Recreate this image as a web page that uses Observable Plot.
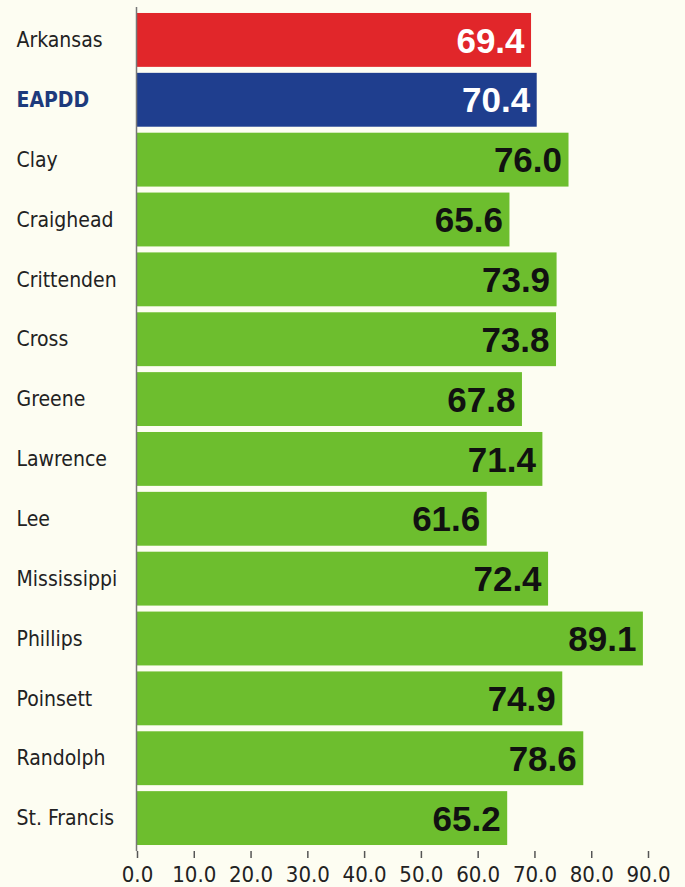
<!DOCTYPE html>
<html>
<head>
<meta charset="utf-8">
<script src="https://cdn.jsdelivr.net/npm/d3@7"></script>
<script src="https://cdn.jsdelivr.net/npm/@observablehq/plot@0.6"></script>
<style>
  html, body { margin: 0; padding: 0; background: #fdfdf2; }
  #chart svg { display: block; }
</style>
</head>
<body>
<div id="chart"></div>
<script>
const names = ["Arkansas", "EAPDD", "Clay", "Craighead", "Crittenden", "Cross", "Greene", "Lawrence", "Lee", "Mississippi", "Phillips", "Poinsett", "Randolph", "St. Francis"];
const values = [69.4, 70.4, 76.0, 65.6, 73.9, 73.8, 67.8, 71.4, 61.6, 72.4, 89.1, 74.9, 78.6, 65.2];
const groups = ["state", "district", "county", "county", "county", "county", "county", "county", "county", "county", "county", "county", "county", "county"];
const xTicks = [0, 10, 20, 30, 40, 50, 60, 70, 80, 90];

const data = names.map((n, i) => ({name: n, value: values[i], group: groups[i]}));
const fillOf = {state: "#e1262a", district: "#1f3e8e", county: "#6dbe2e"};
const labelOf = {state: "#ffffff", district: "#ffffff", county: "#111111"};
const condensed = "'DejaVu Sans Condensed', 'DejaVu Sans', sans-serif";

const chart = Plot.plot({
  width: 685,
  height: 887,
  marginLeft: 137,
  marginRight: 37,
  marginTop: 7,
  marginBottom: 36,
  style: {background: "#fdfdf2", fontFamily: condensed},
  x: {domain: [0, 90], ticks: xTicks, label: null},
  y: {domain: names, padding: 0.1, round: false, axis: null},
  marks: [
    Plot.barX(data, {y: "name", x: "value", fill: d => fillOf[d.group]}),
    Plot.text(data, {
      y: "name", x: "value", text: d => d.value.toFixed(1),
      textAnchor: "end", dx: -7, dy: 1,
      fill: d => labelOf[d.group],
      fontSize: 35, fontWeight: "bold",
      fontFamily: "'Liberation Sans', Arial, sans-serif"
    }),
    Plot.text(data.filter(d => d.group !== "district"), {
      y: "name", x: 0, text: "name", textAnchor: "start", dx: -121,
      fill: "#222222", fontSize: 21, letterSpacing: 0.6
    }),
    Plot.text(data.filter(d => d.group === "district"), {
      y: "name", x: 0, text: "name", textAnchor: "start", dx: -121,
      fill: "#1d3a7c", fontSize: 21, fontWeight: "bold", letterSpacing: 0.6
    }),
    Plot.ruleX([0], {stroke: "#777", strokeWidth: 1.5, dx: -1}),
    Plot.ruleY([0], {frameAnchor: "bottom"}),
    Plot.axisX({
      ticks: xTicks, tickFormat: d => d.toFixed(1), tickSize: 7, tickPadding: 8,
      fontSize: 22, stroke: "#555", strokeWidth: 1.5, fill: "#222", label: null
    })
  ]
});
document.getElementById("chart").appendChild(chart);
</script>
</body>
</html>
